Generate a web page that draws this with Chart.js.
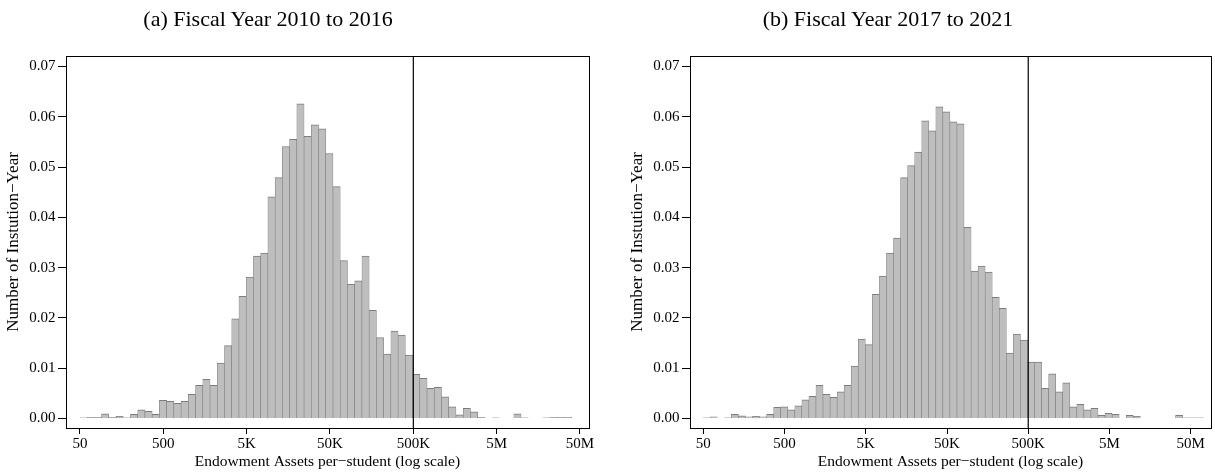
<!DOCTYPE html>
<html>
<head>
<meta charset="utf-8">
<script src="https://cdn.jsdelivr.net/npm/chart.js@4.4.1/dist/chart.umd.min.js"></script>
<style>
  body { margin: 0; background: #fff; }
  #wrap { position: relative; width: 1215px; height: 474px; overflow: hidden; }
  canvas { position: absolute; top: 0; }
  .ttl { position: absolute; top: 8px; width: 400px; margin-left: -200px; text-align: center;
         font: 22px/22px "Liberation Serif", serif; color: #000; }
</style>
</head>
<body>
<div id="wrap">
  <canvas id="left" width="600" height="474" style="left:0"></canvas>
  <canvas id="right" width="615" height="474" style="left:600px"></canvas>
  <div class="ttl" style="left:268px">(a) Fiscal Year 2010 to 2016</div>
  <div class="ttl" style="left:888px">(b) Fiscal Year 2017 to 2021</div>
</div>
<script>
// histogram bins, in log10 of endowment per student
const binStart = 1.697;
const binWidth = 0.0868;

const xTickVals = [50, 500, 5000, 50000, 500000, 5000000, 50000000];
const xTickLabels = ['50', '500', '5K', '50K', '500K', '5M', '50M'];
const yTickVals = [0, 0.01, 0.02, 0.03, 0.04, 0.05, 0.06, 0.07];
const cutoff = 500000;

// share of institution-years per bin
const share2010 = [
  0.0001, 0.0002, 0.0002, 0.0009, 0.0002, 0.0004, 0.0001, 0.0008, 0.0017, 0.0014,
  0.0008, 0.0036, 0.0034, 0.0030, 0.0034, 0.0048, 0.0066, 0.0078, 0.0066, 0.0110,
  0.0145, 0.0198, 0.0243, 0.0281, 0.0323, 0.0329, 0.0441, 0.0479, 0.0541, 0.0555,
  0.0626, 0.0561, 0.0584, 0.0576, 0.0527, 0.0461, 0.0314, 0.0267, 0.0274, 0.0323,
  0.0215, 0.0161, 0.0128, 0.0174, 0.0166, 0.0126, 0.0088, 0.0080, 0.0060, 0.0062,
  0.0043, 0.0023, 0.0007, 0.0020, 0.0013, 0.0002, 0, 0.0001, 0, 0,
  0.0009, 0.0001, 0, 0, 0.0001, 0.0002, 0.0002, 0.0002
];
const share2017 = [
  0.0001, 0.0003, 0, 0.0001, 0.0008, 0.0005, 0.0003, 0.0004, 0.0003, 0.0008,
  0.0022, 0.0023, 0.0017, 0.0025, 0.0037, 0.0044, 0.0066, 0.0048, 0.0042, 0.0053,
  0.0066, 0.0104, 0.0158, 0.0147, 0.0247, 0.0283, 0.0329, 0.0359, 0.0479, 0.0503,
  0.0530, 0.0592, 0.0572, 0.0620, 0.0610, 0.0590, 0.0586, 0.0380, 0.0293, 0.0303,
  0.0291, 0.0241, 0.0219, 0.0130, 0.0168, 0.0156, 0.0112, 0.0112, 0.0060, 0.0089,
  0.0053, 0.0071, 0.0023, 0.0028, 0.0017, 0.0020, 0.0006, 0.0010, 0.0008, 0,
  0.0006, 0.0004, 0, 0, 0, 0, 0, 0.0006, 0.0001, 0.0001, 0.0001
];

const yMin = -0.0019, yMax = 0.0721;
const serif = '"Liberation Serif", "Times New Roman", serif';

const frame = {
  id: 'frame',
  afterDraw(chart) {
    const { ctx, chartArea: a } = chart;
    ctx.save();
    ctx.strokeStyle = '#000';
    ctx.lineWidth = 1;
    ctx.strokeRect(Math.round(a.left) + 0.5, Math.round(a.top) + 0.5,
      Math.round(a.right - a.left), Math.round(a.bottom - a.top));
    ctx.restore();
  }
};

function makePanel(id, values, geo) {
  const bars = values.map((v, i) => ({ x: binStart + binWidth * (i + 0.5), y: v }));
  const cut = Math.log10(cutoff);
  return new Chart(document.getElementById(id), {
    type: 'bar',
    data: {
      datasets: [
        {
          type: 'bar', data: bars, order: 2,
          backgroundColor: '#bebebe', borderColor: '#7d7d7d',
          borderWidth: { top: 1, left: 0.6, right: 0.6, bottom: 0 },
          categoryPercentage: 1, barPercentage: 1
        },
        {
          type: 'line', order: 1,
          data: [{ x: cut, y: yMin }, { x: cut, y: yMax }],
          borderColor: '#000', borderWidth: 1.2, pointRadius: 0
        }
      ]
    },
    options: {
      responsive: false,
      animation: false,
      devicePixelRatio: 1,
      layout: { padding: { top: 56, left: geo.padLeft, right: geo.padRight, bottom: 0 } },
      plugins: { legend: { display: false }, tooltip: { enabled: false } },
      scales: {
        x: {
          type: 'linear', min: geo.xMin, max: geo.xMax, offset: false,
          afterBuildTicks: s => { s.ticks = xTickVals.map(v => ({ value: Math.log10(v) })); },
          afterFit: s => { s.height = 46; },
          ticks: {
            callback: (v, i) => xTickLabels[i],
            font: { family: serif, size: 15 }, color: '#000',
            padding: 1.5, maxRotation: 0, autoSkip: false
          },
          grid: { offset: false, drawOnChartArea: false, drawTicks: true, tickLength: 6, color: '#000' },
          border: { display: true, color: '#000', width: 1 },
          title: {
            display: true, text: 'Endowment Assets per\u2212student (log scale)',
            font: { family: serif, size: 15.5 }, color: '#000',
            padding: { top: 0, bottom: 3 }
          }
        },
        y: {
          min: yMin, max: yMax,
          afterBuildTicks: s => { s.ticks = yTickVals.map(v => ({ value: v })); },
          afterFit: s => { s.width = geo.axisW; },
          ticks: {
            callback: v => v.toFixed(2),
            font: { family: serif, size: 15 }, color: '#000', padding: 2.5
          },
          grid: { drawOnChartArea: false, drawTicks: true, tickLength: 8, color: '#000' },
          border: { display: true, color: '#000', width: 1 },
          title: {
            display: true, text: 'Number of Instution\u2212Year',
            font: { family: serif, size: 17 }, color: '#000',
            padding: { top: 3, bottom: 0 }
          }
        }
      }
    },
    plugins: [frame]
  });
}

makePanel('left', share2010, { padLeft: 0, padRight: 11, axisW: 66, xMin: 1.531, xMax: 7.807 });
makePanel('right', share2017, { padLeft: 24, padRight: 4, axisW: 66, xMin: 1.535, xMax: 7.949 });
</script>
</body>
</html>
